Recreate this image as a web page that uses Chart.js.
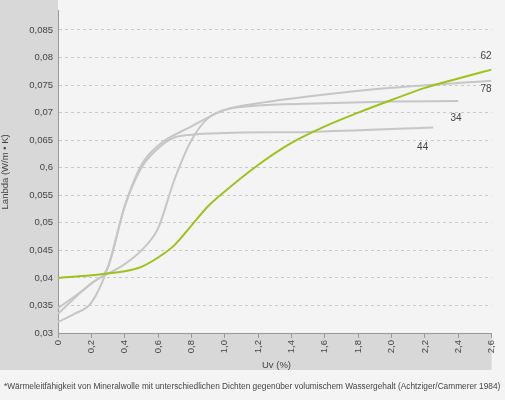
<!DOCTYPE html><html><head><meta charset="utf-8">
<script src="https://cdn.jsdelivr.net/npm/chart.js@4"></script>
<style>html,body{margin:0;padding:0;background:#f4f4f4}#w{width:505px;height:400px}</style></head><body><div id="w"><canvas id="c"></canvas></div>
<script>
const uv62=[0,0.2,0.4,0.5,0.6,0.7,0.8,0.9,1.0,1.2,1.4,1.6,1.8,2.0,2.2,2.4,2.6];
const lam62=[0.040,0.0405,0.0412,0.042,0.0437,0.046,0.0495,0.053,0.0557,0.0605,0.0645,0.0675,0.0700,0.0723,0.0745,0.0762,0.0778];
const uv44=[0,0.2,0.3,0.4,0.5,0.6,0.7,0.8,1.0,1.5,2.25];
const lam44=[0.0345,0.039,0.042,0.053,0.060,0.0635,0.0655,0.066,0.0663,0.0665,0.0673];
const uv78=[0,0.1,0.2,0.3,0.4,0.5,0.6,0.8,1.0,1.2,1.6,2.0,2.6];
const lam78=[0.032,0.0335,0.0355,0.042,0.053,0.0605,0.064,0.0675,0.0705,0.0717,0.0733,0.0745,0.0758];
const uv34=[0,0.2,0.4,0.5,0.6,0.7,0.8,0.9,1.0,1.2,1.6,2.0,2.4];
const lam34=[0.0335,0.039,0.0425,0.045,0.049,0.058,0.065,0.069,0.0705,0.0713,0.0717,0.072,0.0721];
const seriesNames=['62','78','34','44'];
const labelPos=[[2.6,0.0797],[2.6,0.0737],[2.42,0.0685],[2.22,0.0633]];
const yTickLabels={"0.03":"0,03","0.035":"0,035","0.04":"0,04","0.045":"0,045","0.05":"0,05","0.055":"0,055","0.06":"0,6","0.065":"0,065","0.07":"0,07","0.075":"0,075","0.08":"0,08","0.085":"0,085"};
const pts=(x,y)=>x.map((v,i)=>({x:v,y:y[i]}));
const grey='#c6c6c6';
const ds=(n,x,y,c)=>({label:n,data:pts(x,y),borderColor:c,borderWidth:2,pointRadius:0,showLine:true,cubicInterpolationMode:'monotone',fill:false});
const bg={id:'bg',beforeDraw(ch){const c=ch.ctx,a=ch.chartArea;c.save();c.fillStyle='#f4f4f4';c.fillRect(0,0,505,400);c.fillStyle='#d8d8d8';c.fillRect(0,0,a.left,370);c.fillRect(a.left,a.bottom+1,a.right-a.left,370-a.bottom-1);c.restore();},
afterDraw(ch){const c=ch.ctx,x=ch.scales.x,y=ch.scales.y;c.save();c.fillStyle='#444';c.font='10px "Liberation Sans",Arial';c.textAlign='right';
labelPos.forEach((p,i)=>c.fillText(seriesNames[i],x.getPixelForValue(p[0]),y.getPixelForValue(p[1])));
c.textAlign='left';c.font='8.3px "Liberation Sans",Arial';c.fillText('*Wärmeleitfähigkeit von Mineralwolle mit unterschiedlichen Dichten gegenüber volumischem Wassergehalt (Achtziger/Cammerer 1984)',4,389);
c.font='9.5px "Liberation Sans",Arial';c.fillText('Uv (%)',262,368);c.restore();}};
new Chart(document.getElementById('c'),{type:'scatter',data:{datasets:[ds('62',uv62,lam62,'#9cc31c'),ds('78',uv78,lam78,grey),ds('34',uv34,lam34,grey),ds('44',uv44,lam44,grey)]},
options:{responsive:true,maintainAspectRatio:false,animation:false,layout:{padding:{top:3,right:12,bottom:30,left:0}},
plugins:{legend:{display:false},tooltip:{enabled:false}},
scales:{x:{type:'linear',min:0,max:2.6,afterFit(s){s.height=37},border:{color:'#999',width:1},grid:{drawOnChartArea:false,drawTicks:true,tickLength:5,color:'#999'},
ticks:{stepSize:0.2,minRotation:90,maxRotation:90,padding:2,color:'#444',font:{size:9.5,family:'Liberation Sans'},callback:v=>v===0?'0':v.toFixed(1).replace('.',',')}},
y:{type:'linear',min:0.03,max:0.0885,afterFit(s){s.width=58},afterBuildTicks(s){s.ticks=[];for(let i=0;i<12;i++)s.ticks.push({value:+(0.03+i*0.005).toFixed(3)});},
border:{color:'#999',width:1,dash:[3,3]},grid:{color:'#c8c8c8',drawTicks:false,tickLength:0},
ticks:{padding:5,color:'#444',font:{size:9.5,family:'Liberation Sans'},callback:v=>yTickLabels[String(+v.toFixed(3))]},
title:{display:true,text:'Lanbda (W/m • K)',color:'#444',font:{size:9.5,family:'Liberation Sans'},padding:{top:0,bottom:0}}}}},plugins:[bg]});
</script></body></html>
